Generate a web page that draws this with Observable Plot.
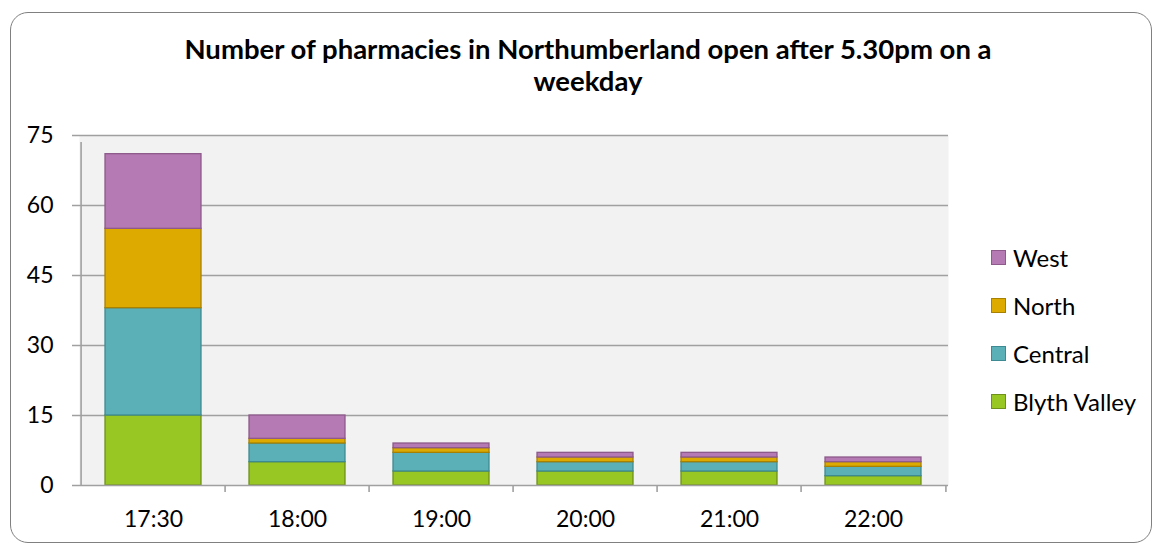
<!DOCTYPE html>
<html><head><meta charset="utf-8">
<script src="https://cdn.jsdelivr.net/npm/d3@7"></script>
<script src="https://cdn.jsdelivr.net/npm/@observablehq/plot@0.6"></script>
<style>
body{margin:0;background:#fff;font-family:Lato,"Open Sans",sans-serif;}
#wrap{position:relative;width:1157px;height:545px;overflow:hidden;}
#border{position:absolute;left:10px;top:12px;width:1142px;height:531px;border:1.5px solid #808080;border-radius:18px;box-sizing:border-box;}
#title{position:absolute;left:88px;width:1000px;top:33px;text-align:center;font-weight:bold;font-size:27.5px;line-height:32px;white-space:nowrap;color:#000;}
#chart{position:absolute;left:0;top:0;}
.leg{position:absolute;left:991px;height:26px;display:flex;align-items:center;font-size:24px;color:#000;white-space:nowrap;}
.leg span.sw{display:inline-block;width:13px;height:13px;border:1.3px solid;margin-right:7px;}
</style></head>
<body>
<div id="wrap">
  <div id="border"></div>
  <div id="chart"></div>
  <div id="title">Number of pharmacies in Northumberland open after 5.30pm on a<br>weekday</div>
  <div id="legend"></div>
</div>
<script>
const times = ["17:30","18:00","19:00","20:00","21:00","22:00"];
const series = ["Blyth Valley","Central","North","West"];
const blythValley = [15,5,3,3,3,2];
const central = [23,4,4,2,2,2];
const north = [17,1,1,1,1,1];
const west = [16,5,1,1,1,1];
const yTicks = [0,15,30,45,60,75];
const fills = ["#98c723","#5bb0b8","#ddab00","#b57ab3"];
const strokes = ["#6f911a","#3e8a92","#a88100","#8d5a8b"];

const values = [blythValley, central, north, west];
const data = series.flatMap((s,i)=> times.map((t,j)=>({time:t, series:s, value:values[i][j], fill:fills[i], stroke:strokes[i]})));

const W=1157,H=545,mL=79,mR=209,mT=135,mB=60;
const step=(W-mL-mR)/times.length;
const grid="#a0a0a0";

const chart = Plot.plot({
  width:W, height:H, marginLeft:mL, marginRight:mR, marginTop:mT, marginBottom:mB,
  style:{fontFamily:"Lato, 'Open Sans', sans-serif", fontSize:"23px", color:"#000", background:"transparent", overflow:"visible"},
  x:{domain:times, paddingInner:0.33, paddingOuter:0.165, label:null},
  y:{domain:[0,75], label:null},
  color:{type:"identity"},
  marks:[
    Plot.frame({fill:"#f2f2f2", stroke:"none"}),
    Plot.ruleY(yTicks.slice(1), {stroke:grid, strokeWidth:1.4, insetLeft:-7}),
    Plot.barY(data, {x:"time", y:"value", fill:"fill", stroke:"stroke", strokeWidth:1.3}),
    Plot.ruleY([0], {stroke:grid, strokeWidth:1.6, insetLeft:-7}),
    Plot.ruleX(times.slice(1), {x:d=>d, dx:-step/2, y1:0, y2:0, insetBottom:-7, stroke:grid, strokeWidth:1.6}),
    Plot.ruleX([times[times.length-1]], {x:d=>d, dx:step/2, y1:0, y2:0, insetBottom:-7, stroke:grid, strokeWidth:1.6}),
    Plot.ruleX([times[0]], {x:d=>d, dx:-step/2, y1:0, y2:75, insetBottom:-7, stroke:grid, strokeWidth:1.6}),
    Plot.axisY({ticks:yTicks, tickSize:0, tickPadding:26, tickFormat:d=>String(d), label:null}),
    Plot.axisX({tickSize:0, tickPadding:25, label:null})
  ]
});
document.getElementById("chart").appendChild(chart);

const legendOrder = [3,2,1,0];
const legendY = [257,305,353,401];
const leg = document.getElementById("legend");
legendOrder.forEach((k,i)=>{
  const d=document.createElement("div");
  d.className="leg";
  d.style.top=(legendY[i]-13)+"px";
  d.innerHTML=`<span class="sw" style="background:${fills[k]};border-color:${strokes[k]}"></span>${series[k]}`;
  leg.appendChild(d);
});
</script>
</body></html>
